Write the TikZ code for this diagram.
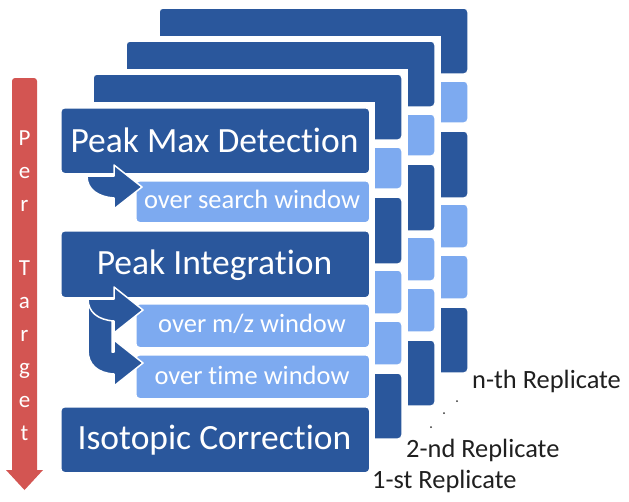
\documentclass[tikz,border=0pt]{standalone}
\usepackage{fontspec}
\setmainfont{Carlito}[Ligatures={NoCommon,NoContextual}]
\definecolor{dblue}{HTML}{2A579C}
\definecolor{lblue}{HTML}{7DAAF0}
\definecolor{rred}{HTML}{D35552}
\newcommand\layerboxes{%
  \fill[white] (54.5,101.5) rectangle (374.5,477.5);
  \filldraw[darkbox] (60,107) rectangle (369,173);
  \filldraw[lightbox] (135,180) rectangle (369,222);
  \filldraw[darkbox] (60,230) rectangle (369,297);
  \filldraw[lightbox] (135,303) rectangle (369,347);
  \filldraw[lightbox] (135,354) rectangle (369,398);
  \filldraw[darkbox] (60,406) rectangle (369,472);
}
\begin{document}
\begin{tikzpicture}[x=1pt,y=-1pt,
  darkbox/.style={fill=dblue,draw=white,line width=1.5pt,rounded corners=4pt},
  lightbox/.style={fill=lblue,draw=white,line width=1.5pt,rounded corners=4pt},
  bigtxt/.style={text=white,font=\fontsize{35.5}{40}\selectfont,anchor=base,inner sep=0pt},
  smalltxt/.style={text=white,font=\fontsize{26.5}{30}\selectfont,anchor=base,inner sep=0pt},
  lettr/.style={text=white,font=\fontsize{23}{26}\selectfont,anchor=base,inner sep=0pt},
  replab/.style={text=black!88,font=\fontsize{26.4}{30}\selectfont,anchor=base west,inner sep=0pt},
  bentarrow/.style={fill=dblue,draw=white,line width=1.5pt,line join=round}]
\useasboundingbox (0,0) rectangle (629,501);
% back layers (n-th, 3rd, 2nd)
\begin{scope}[shift={(99,-99)}]\layerboxes\end{scope}
\begin{scope}[shift={(66,-66)}]\layerboxes\end{scope}
\begin{scope}[shift={(33,-33)}]\layerboxes\end{scope}
% front layer
\fill[white] (54.5,101.5) rectangle (374.5,477.5);
\node[darkbox,minimum width=309,minimum height=66,anchor=north west] (pmd) at (60,107) {};
\node[lightbox,minimum width=234,minimum height=42,anchor=north west] (sw) at (135,180) {};
\node[darkbox,minimum width=309,minimum height=67,anchor=north west] (pi) at (60,230) {};
\node[lightbox,minimum width=234,minimum height=44,anchor=north west] (mz) at (135,303) {};
\node[lightbox,minimum width=234,minimum height=44,anchor=north west] (tw) at (135,354) {};
\node[darkbox,minimum width=309,minimum height=66,anchor=north west] (ic) at (60,406) {};
% bent arrows
\filldraw[bentarrow] (87,176) -- (114,176) -- (114,165) -- (142,187) -- (114,209) -- (114,198)
  .. controls (99,197) and (87,190) .. (87,176) -- cycle;
\filldraw[bentarrow] (88,299) -- (112,299) -- (112,352) -- (114,352) -- (114,340) -- (143,363)
  -- (114,386) -- (114,374) .. controls (98,373) and (88,365) .. (88,350) -- cycle;
\filldraw[bentarrow] (88,299) -- (114,299) -- (114,287) -- (143,310) -- (114,333) -- (114,321)
  .. controls (98,320) and (88,312) .. (88,299) -- cycle;
% texts
\node[bigtxt] (tpmd) at (214.5,152) {Peak Max Detection};
\node[smalltxt] (tsw) at (252,208) {over search window};
\node[bigtxt] (tpi) at (214.5,274) {Peak Integration};
\node[smalltxt] (tmz) at (252,332) {over m/z window};
\node[smalltxt] (ttw) at (252,384) {over time window};
\node[bigtxt] (tic) at (214.5,449) {Isotopic Correction};
% red arrow
\fill[rred] (12,470) [rounded corners=3pt] -- (12,78) -- (37,78) [sharp corners] -- (37,470)
  -- (43,470) -- (24.5,490) -- (6,470) -- cycle;
\node[lettr] (l1) at (24.5,145) {P};
\node[lettr] (l2) at (24.5,178) {e};
\node[lettr] (l3) at (24.5,211) {r};
\node[lettr] (l4) at (24.5,275) {T};
\node[lettr] (l5) at (24.5,308) {a};
\node[lettr] (l6) at (24.5,341) {r};
\node[lettr] (l7) at (24.5,374) {g};
\node[lettr] (l8) at (24.5,407) {e};
\node[lettr] (l9) at (24.5,440) {t};
% labels
\node[replab] (rn) at (472,388) {n-th Replicate};
\node[replab] (r2) at (406,457) {2-nd Replicate};
\node[replab] (r1) at (372,488) {1-st Replicate};
\fill[black!80] (457,401) circle (1) (444,413) circle (1) (431,427) circle (1);
\end{tikzpicture}
\end{document}
